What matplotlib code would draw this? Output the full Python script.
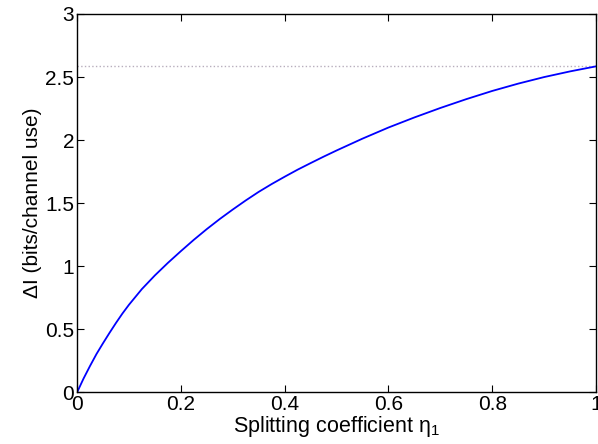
import matplotlib
matplotlib.use('Agg')
import matplotlib.pyplot as plt

# values
eta = [0, 0.0125, 0.025, 0.0375, 0.05, 0.0625, 0.075, 0.0875, 0.1, 0.125,
       0.15, 0.175, 0.2, 0.225, 0.25, 0.275, 0.3, 0.325, 0.35, 0.375, 0.4,
       0.425, 0.45, 0.475, 0.5, 0.55, 0.6, 0.65, 0.7, 0.75, 0.8, 0.85, 0.9,
       0.95, 1.0]
delta_i = [0, 0.11, 0.21, 0.305, 0.39, 0.472, 0.551, 0.626, 0.695, 0.82,
           0.928, 1.027, 1.12, 1.21, 1.295, 1.375, 1.45, 1.522, 1.59, 1.652, 1.71,
           1.766, 1.818, 1.869, 1.918, 2.012, 2.10, 2.18, 2.255, 2.325, 2.39,
           2.448, 2.50, 2.545, 2.585]
upper_bound = 2.585  # log2(6)

xticks = [0, 0.2, 0.4, 0.6, 0.8, 1.0]
xtick_labels = ['0', '0.2', '0.4', '0.6', '0.8', '1']
yticks = [0, 0.5, 1, 1.5, 2, 2.5, 3]
ytick_labels = ['0', '0.5', '1', '1.5', '2', '2.5', '3']

plt.rcParams['font.family'] = ['Liberation Sans', 'DejaVu Sans']
plt.rcParams['mathtext.fontset'] = 'custom'
plt.rcParams['mathtext.rm'] = 'Liberation Sans'
plt.rcParams['mathtext.it'] = 'Liberation Sans'
plt.rcParams['mathtext.default'] = 'regular'

fig = plt.figure(figsize=(5.98, 4.44), dpi=100)
ax = fig.add_axes([0.1288, 0.116, 0.8679, 0.8525])

# dotted bound line
ax.plot([0, 1], [upper_bound, upper_bound], linestyle=':', color='#b8aebd', lw=1.0)
ax.plot(eta, delta_i, color='#0000ff', lw=1.3)

ax.set_xlim(0, 1)
ax.set_ylim(0, 3)
ax.set_xticks(xticks)
ax.set_xticklabels(xtick_labels)
ax.set_yticks(yticks)
ax.set_yticklabels(ytick_labels)
ax.tick_params(direction='in', top=True, right=True, length=5, width=0.8,
               labelsize=15, pad=2)
for s in ax.spines.values():
    s.set_linewidth(1.0)

ax.set_xlabel('Splitting coefficient $\\eta_1$', fontsize=15.5, labelpad=0)
ax.set_ylabel('\u0394I (bits/channel use)', fontsize=15, labelpad=2)

fig.savefig('out.png', dpi=100)
